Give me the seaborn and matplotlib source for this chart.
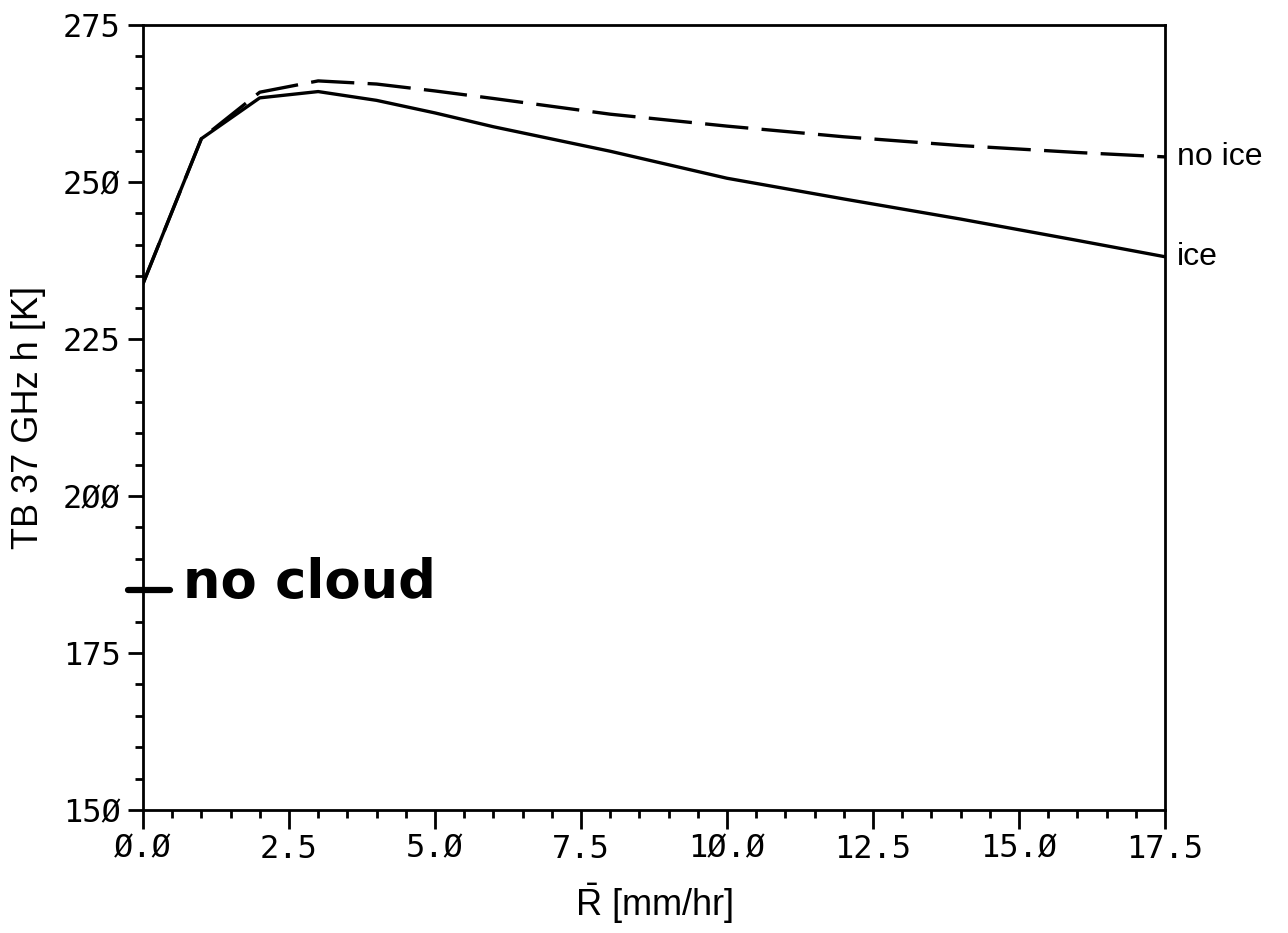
import matplotlib
matplotlib.use("Agg")
import matplotlib.pyplot as plt
from matplotlib.ticker import MultipleLocator
import seaborn as sns
import pandas as pd

# ---- data ----
rain_rate = [0, 1, 2, 3, 4, 5, 6, 8, 10, 12, 14, 16, 17.5]
tb_ice = [233.8, 256.9, 263.4, 264.4, 263.0, 261.0, 258.8, 254.9, 250.6, 247.3, 244.1, 240.7, 238.1]
tb_no_ice = [233.8, 256.9, 264.3, 266.1, 265.6, 264.5, 263.3, 260.8, 258.9, 257.2, 255.8, 254.7, 254.0]

xticks = [0.0, 2.5, 5.0, 7.5, 10.0, 12.5, 15.0, 17.5]
xtick_labels = ["Ø.Ø", "2.5", "5.Ø", "7.5", "1Ø.Ø", "12.5", "15.Ø", "17.5"]
yticks = [150, 175, 200, 225, 250, 275]
ytick_labels = ["15Ø", "175", "2ØØ", "225", "25Ø", "275"]

no_cloud_tb = 185

sns.set_theme(style="white")
plt.rcParams["font.family"] = ["Liberation Sans", "DejaVu Sans"]
plt.rcParams["mathtext.fontset"] = "custom"
plt.rcParams["mathtext.rm"] = "Liberation Sans"
plt.rcParams["mathtext.sf"] = "Liberation Sans"
plt.rcParams["text.color"] = "black"
plt.rcParams["axes.labelcolor"] = "black"
plt.rcParams["xtick.color"] = "black"
plt.rcParams["ytick.color"] = "black"

fig = plt.figure(figsize=(12.88, 9.33), dpi=100)
fig.patch.set_facecolor("white")
ax = fig.add_axes([0.111, 0.1318, 0.7935, 0.8414])
ax.set_facecolor("white")

df_ice = pd.DataFrame({"R": rain_rate, "TB": tb_ice})
df_noice = pd.DataFrame({"R": rain_rate, "TB": tb_no_ice})
sns.lineplot(data=df_noice, x="R", y="TB", ax=ax, color="black", lw=2.4,
             linestyle=(0, (13, 4)), estimator=None, sort=False)
sns.lineplot(data=df_ice, x="R", y="TB", ax=ax, color="black", lw=2.4,
             estimator=None, sort=False)

ax.set_xlim(0, 17.5)
ax.set_ylim(150, 275)
ax.set_xticks(xticks)
ax.set_xticklabels(xtick_labels, fontfamily="DejaVu Sans Mono", fontsize=23)
ax.set_yticks(yticks)
ax.set_yticklabels(ytick_labels, fontfamily="DejaVu Sans Mono", fontsize=23)
ax.xaxis.set_minor_locator(MultipleLocator(0.5))
ax.yaxis.set_minor_locator(MultipleLocator(5))
ax.tick_params(axis="both", which="major", direction="out", length=11, width=2,
               color="black", labelcolor="black", bottom=True, left=True, pad=5)
ax.tick_params(axis="both", which="minor", direction="out", length=6, width=2,
               color="black", bottom=True, left=True)
ax.tick_params(axis="x", which="major", length=14, pad=3)
for s in ax.spines.values():
    s.set_visible(True)
    s.set_color("black")
    s.set_linewidth(2.0)

ax.set_xlabel(r"$\bar{\mathrm{R}}$ [mm/hr]", fontsize=26, labelpad=12, color="black")
ax.set_ylabel("TB 37 GHz h [K]", fontsize=26, labelpad=12, color="black")

# end-of-line labels
trans = ax.get_yaxis_transform()
ax.text(1.012, tb_no_ice[-1], "no ice", transform=trans,
        fontsize=23, va="center", ha="left", color="black")
ax.text(1.012, tb_ice[-1], "ice", transform=trans,
        fontsize=23, va="center", ha="left", color="black")

# hand-drawn "no cloud" marker
ax.plot([-0.26, 0.46], [no_cloud_tb, no_cloud_tb], color="black", lw=4.5,
        solid_capstyle="round", clip_on=False)
ax.text(0.68, no_cloud_tb + 1.2, "no cloud", fontsize=38, fontweight="bold",
        family="DejaVu Sans", va="center", ha="left", color="black")

fig.savefig("out.png", dpi=100, facecolor="white")
